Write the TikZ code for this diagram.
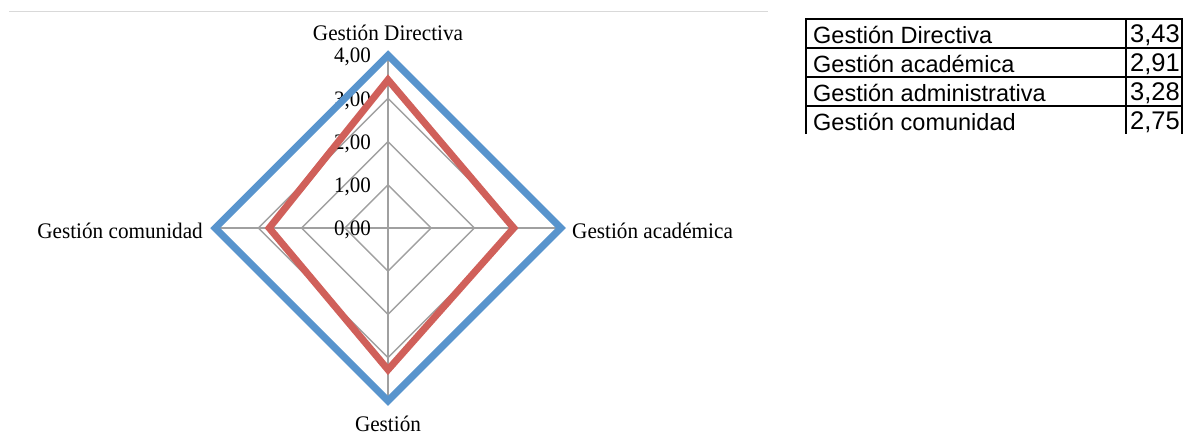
\documentclass[tikz,border=0pt]{standalone}
\usepackage{fontspec}
\setmainfont{Liberation Serif}
\setsansfont{Liberation Sans}
\newcommand{\tallser}[1]{\scalebox{1}[1.05]{#1}}
\begin{document}
\begin{tikzpicture}[x=1pt,y=-1pt,
  grid/.style={draw={rgb,255:red,160;green,160;blue,160},line width=1.4pt},
  serie1/.style={draw={rgb,255:red,88;green,148;blue,205},line width=7pt,line join=miter},
  serie2/.style={draw={rgb,255:red,208;green,96;blue,90},line width=7pt,line join=miter},
  lbl/.style={font=\fontsize{21.2}{24}\selectfont,inner sep=0pt},
  tick/.style={font=\fontsize{21}{24}\selectfont,inner sep=0pt,anchor=east},
  cell/.style={font=\sffamily\fontsize{23.5}{26}\selectfont,inner sep=0pt},
  num/.style={font=\sffamily\fontsize{25.5}{28}\selectfont,inner sep=0pt},
  rule/.style={draw=black,line width=1.3pt}]
\useasboundingbox (0,0) rectangle (1190,439);
% top separator line
\coordinate (sepL) at (9,11.5);
\coordinate (sepR) at (768,11.5);
\draw[draw={rgb,255:red,217;green,217;blue,217},line width=1.3pt] (sepL) -- (sepR);
% chart
\coordinate (C) at (388,228);
\foreach \k in {1,2,3,4}{
  \pgfmathsetmacro{\r}{43.2*\k}
  \draw[grid] (388,228-\r) -- (388+\r,228) -- (388,228+\r) -- (388-\r,228) -- cycle;
}
\coordinate (T) at (388,55.2);
\coordinate (R) at (560.8,228);
\coordinate (B) at (388,400.8);
\coordinate (L) at (215.2,228);
\draw[grid] (C) -- (T); \draw[grid] (C) -- (R);
\draw[grid] (C) -- (B); \draw[grid] (C) -- (L);
% tick labels
\foreach \k/\t in {0/{0,00},1/{1,00},2/{2,00},3/{3,00},4/{4,00}}{
  \node[tick] (tk\k) at (371,{228-43.2*\k+2}) {\tallser{\t}};
}
% series
\draw[serie1] (T) -- (R) -- (B) -- (L) -- cycle;
\coordinate (rT) at (388,79.8);
\coordinate (rR) at (513.7,228);
\coordinate (rB) at (388,369.7);
\coordinate (rL) at (269.2,228);
\draw[serie2] (rT) -- (rR) -- (rB) -- (rL) -- cycle;
% axis labels
\node[lbl] (lT) at (388,33) {\tallser{Gestión Directiva}};
\node[lbl,anchor=west] (lR) at (572,231) {\tallser{Gestión académica}};
\node[lbl,anchor=east] (lL) at (203,231) {\tallser{Gestión comunidad}};
\node[lbl] (lB) at (388,424) {\tallser{Gestión}};
% table
\draw[rule] (806,134) -- (806,19) -- (1182,19) -- (1182,134);
\draw[rule] (1126,19) -- (1126,134);
\draw[rule] (806,48) -- (1182,48);
\draw[rule] (806,77) -- (1182,77);
\draw[rule] (806,106) -- (1182,106);
\node[cell,anchor=west] (c1) at (813,34.5) {Gestión Directiva};
\node[cell,anchor=west] (c2) at (813,63.5) {Gestión académica};
\node[cell,anchor=west] (c3) at (813,92.5) {Gestión administrativa};
\node[cell,anchor=west] (c4) at (813,121.5) {Gestión comunidad};
\node[num] (v1) at (1155,35) {3,43};
\node[num] (v2) at (1155,64) {2,91};
\node[num] (v3) at (1155,93) {3,28};
\node[num] (v4) at (1155,122) {2,75};
\end{tikzpicture}
\end{document}
